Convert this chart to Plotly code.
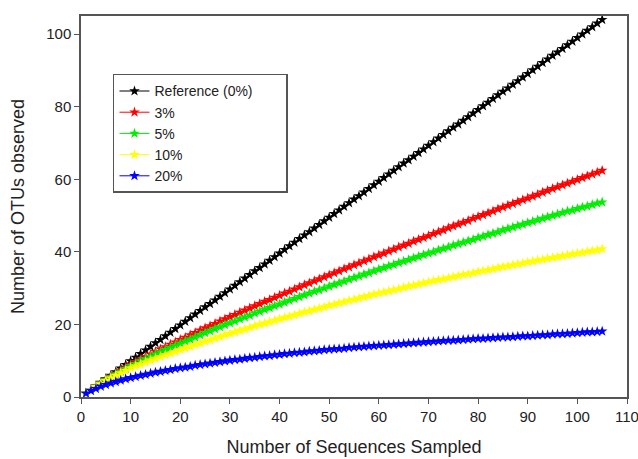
import plotly.graph_objects as go

sequences = list(range(1, 106))

reference = [1.0, 2.0, 3.0, 4.0, 5.0, 5.9, 6.9, 7.9, 8.9, 9.9,
             10.9, 11.9, 12.9, 13.9, 14.9, 15.8, 16.8, 17.8, 18.8, 19.8,
             20.8, 21.8, 22.8, 23.8, 24.8, 25.7, 26.7, 27.7, 28.7, 29.7,
             30.7, 31.7, 32.7, 33.7, 34.7, 35.6, 36.6, 37.6, 38.6, 39.6,
             40.6, 41.6, 42.6, 43.6, 44.6, 45.5, 46.5, 47.5, 48.5, 49.5,
             50.5, 51.5, 52.5, 53.5, 54.5, 55.4, 56.4, 57.4, 58.4, 59.4,
             60.4, 61.4, 62.4, 63.4, 64.4, 65.3, 66.3, 67.3, 68.3, 69.3,
             70.3, 71.3, 72.3, 73.3, 74.3, 75.2, 76.2, 77.2, 78.2, 79.2,
             80.2, 81.2, 82.2, 83.2, 84.2, 85.1, 86.1, 87.1, 88.1, 89.1,
             90.1, 91.1, 92.1, 93.1, 94.1, 95.0, 96.0, 97.0, 98.0, 99.0,
             100.0, 101.0, 102.0, 103.0, 104.0]

otu_3 = [1.0, 2.0, 2.9, 3.9, 4.8, 5.7, 6.5, 7.4, 8.2, 9.0,
         9.7, 10.4, 11.1, 11.8, 12.5, 13.2, 13.8, 14.5, 15.1, 15.8,
         16.4, 17.1, 17.7, 18.4, 19.0, 19.6, 20.2, 20.9, 21.5, 22.1,
         22.7, 23.3, 23.9, 24.5, 25.1, 25.7, 26.3, 26.8, 27.4, 28.0,
         28.6, 29.1, 29.7, 30.3, 30.9, 31.4, 32.0, 32.5, 33.1, 33.6,
         34.2, 34.7, 35.3, 35.8, 36.4, 36.9, 37.5, 38.0, 38.6, 39.1,
         39.6, 40.2, 40.7, 41.3, 41.8, 42.3, 42.9, 43.4, 43.9, 44.4,
         45.0, 45.5, 46.0, 46.6, 47.1, 47.6, 48.1, 48.6, 49.2, 49.7,
         50.2, 50.7, 51.2, 51.8, 52.3, 52.8, 53.3, 53.8, 54.3, 54.8,
         55.3, 55.8, 56.4, 56.9, 57.4, 57.9, 58.4, 58.9, 59.4, 59.9,
         60.4, 60.9, 61.4, 61.9, 62.4]

otu_5 = [1.0, 1.9, 2.9, 3.8, 4.7, 5.5, 6.3, 7.0, 7.8, 8.6,
         9.2, 9.9, 10.5, 11.2, 11.8, 12.4, 13.0, 13.6, 14.2, 14.8,
         15.4, 15.9, 16.5, 17.1, 17.7, 18.2, 18.8, 19.3, 19.9, 20.4,
         20.9, 21.5, 22.0, 22.5, 23.1, 23.6, 24.1, 24.6, 25.1, 25.6,
         26.1, 26.6, 27.1, 27.6, 28.1, 28.6, 29.1, 29.5, 30.0, 30.5,
         31.0, 31.4, 31.9, 32.4, 32.9, 33.3, 33.8, 34.2, 34.7, 35.2,
         35.6, 36.1, 36.5, 37.0, 37.4, 37.8, 38.3, 38.7, 39.2, 39.6,
         40.0, 40.5, 40.9, 41.3, 41.8, 42.2, 42.6, 43.0, 43.4, 43.9,
         44.3, 44.7, 45.1, 45.5, 46.0, 46.4, 46.8, 47.2, 47.6, 48.0,
         48.4, 48.8, 49.2, 49.6, 50.0, 50.4, 50.8, 51.2, 51.5, 51.9,
         52.3, 52.6, 53.0, 53.4, 53.7]

otu_10 = [1.0, 1.9, 2.8, 3.6, 4.5, 5.2, 5.9, 6.6, 7.3, 8.0,
          8.5, 9.0, 9.6, 10.1, 10.6, 11.1, 11.6, 12.0, 12.5, 13.0,
          13.5, 13.9, 14.4, 14.8, 15.3, 15.7, 16.2, 16.6, 17.1, 17.5,
          17.9, 18.3, 18.7, 19.1, 19.6, 20.0, 20.3, 20.7, 21.1, 21.5,
          21.9, 22.2, 22.6, 23.0, 23.4, 23.7, 24.1, 24.4, 24.8, 25.2,
          25.5, 25.9, 26.2, 26.6, 26.9, 27.2, 27.6, 27.9, 28.3, 28.6,
          28.9, 29.2, 29.5, 29.8, 30.2, 30.5, 30.8, 31.1, 31.4, 31.7,
          32.0, 32.3, 32.5, 32.8, 33.1, 33.4, 33.7, 33.9, 34.2, 34.5,
          34.8, 35.0, 35.3, 35.6, 35.9, 36.1, 36.4, 36.6, 36.9, 37.2,
          37.4, 37.7, 37.9, 38.2, 38.4, 38.6, 38.9, 39.1, 39.4, 39.6,
          39.8, 40.1, 40.3, 40.5, 40.8]

otu_20 = [1.0, 1.7, 2.3, 2.9, 3.4, 3.8, 4.2, 4.6, 5.0, 5.3,
          5.6, 5.9, 6.2, 6.5, 6.8, 7.0, 7.3, 7.5, 7.8, 8.0,
          8.2, 8.4, 8.7, 8.9, 9.1, 9.3, 9.5, 9.7, 9.9, 10.1,
          10.3, 10.4, 10.6, 10.8, 10.9, 11.1, 11.3, 11.4, 11.6, 11.7,
          11.9, 12.0, 12.2, 12.3, 12.4, 12.6, 12.7, 12.8, 13.0, 13.1,
          13.2, 13.3, 13.4, 13.6, 13.7, 13.8, 13.9, 14.0, 14.1, 14.2,
          14.3, 14.4, 14.5, 14.6, 14.7, 14.8, 14.9, 15.0, 15.1, 15.2,
          15.3, 15.4, 15.5, 15.6, 15.6, 15.7, 15.8, 15.9, 16.0, 16.1,
          16.1, 16.2, 16.3, 16.4, 16.5, 16.5, 16.6, 16.7, 16.8, 16.8,
          16.9, 17.0, 17.1, 17.1, 17.3, 17.4, 17.4, 17.5, 17.6, 17.7,
          17.8, 17.9, 17.9, 18.0, 18.1]

series_names = ["Reference (0%)\u2002\u2002\u2002\u2002", "3%", "5%", "10%", "20%"]
series_values = [reference, otu_3, otu_5, otu_10, otu_20]
series_colors = ["#000000", "#ff0000", "#00ee00", "#ffff00", "#0000ff"]

x_ticks = list(range(0, 111, 10))
y_ticks = list(range(0, 101, 20))

fig = go.Figure()
for name, vals, col in zip(series_names, series_values, series_colors):
    fig.add_trace(go.Scatter(
        x=sequences, y=vals, name=name, mode="lines+markers",
        line=dict(color=col, width=1),
        marker=dict(symbol="star", size=8, color=col, line=dict(width=0)),
    ))

font_family = "Liberation Sans, Arial, sans-serif"
axis_common = dict(
    showline=True, linecolor="#555555", linewidth=1.5, mirror=True,
    ticks="outside", ticklen=5, tickwidth=1.2, tickcolor="#555555",
    showgrid=False, zeroline=False, ticklabeloverflow="allow",
    tickfont=dict(family=font_family, size=15, color="#222222"),
)

fig.update_layout(
    width=638, height=459,
    margin=dict(l=81, r=11, t=16, b=62),
    paper_bgcolor="white", plot_bgcolor="white",
    font=dict(family=font_family, color="#222222"),
    xaxis=dict(range=[0, 110], tickvals=x_ticks, automargin=False,
               title=dict(text="Number of Sequences Sampled",
                          font=dict(size=18, family=font_family), standoff=17),
               **axis_common),
    yaxis=dict(range=[0, 105], tickvals=y_ticks, automargin=False,
               title=dict(text="Number of OTUs observed",
                          font=dict(size=18, family=font_family), standoff=17),
               **axis_common),
    legend=dict(x=0.0586, y=0.848, xanchor="left", yanchor="top",
                bordercolor="#555555", borderwidth=1.5, bgcolor="white",
                font=dict(family=font_family, size=14, color="#222222"),
                tracegroupgap=0, itemwidth=30),
    showlegend=True,
)

fig.write_html(
    "out.html",
    config={"displayModeBar": False},
    post_script="document.body.style.margin='0';document.body.style.overflow='hidden';",
)
